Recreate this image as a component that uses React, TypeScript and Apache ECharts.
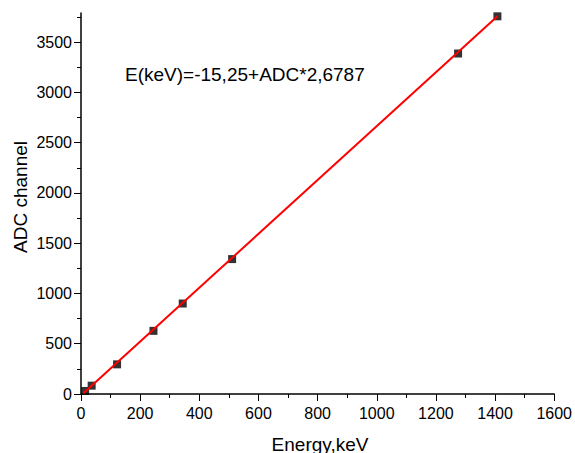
import React, { useEffect, useRef } from "react";
import * as echarts from "echarts";

const energyKeV = [14, 36, 122, 245, 344, 511, 1275, 1408];
const adcChannel = [30, 83, 295, 628, 900, 1342, 3387, 3757];
const fitX = [8, 1409];
const fitY = [7, 3760];
const yMajorTicks = [0, 500, 1000, 1500, 2000, 2500, 3000, 3500];
const yMinorTicks = [250, 750, 1250, 1750, 2250, 2750, 3250, 3750];
const equationText = "E(keV)=-15,25+ADC*2,6787";
const xName = "Energy,keV";
const yName = "ADC channel";

const FONT = "'Liberation Sans', Arial, sans-serif";

export default function App() {
  const ref = useRef<HTMLDivElement>(null);
  useEffect(() => {
    const chart = echarts.init(ref.current!, undefined, { renderer: "svg" });
    const scatterData = energyKeV.map((x, i) => [x, adcChannel[i]]);
    const fitData = fitX.map((x, i) => [x, fitY[i]]);
    const plain = (v: number) => String(v);
    chart.setOption({
      animation: false,
      backgroundColor: "#ffffff",
      grid: { left: 81, top: 13, right: 19, bottom: 59, containLabel: false },
      xAxis: {
        type: "value",
        min: 0,
        max: 1600,
        interval: 200,
        axisLine: { show: true, onZero: false, lineStyle: { color: "#000", width: 1.5 } },
        axisTick: { show: true, inside: false, length: 7, lineStyle: { color: "#000", width: 1 } },
        minorTick: { show: true, splitNumber: 2, length: 4, lineStyle: { color: "#000", width: 1 } },
        splitLine: { show: false },
        minorSplitLine: { show: false },
        axisLabel: { color: "#000", fontSize: 16, fontFamily: FONT, margin: 11, formatter: plain },
      },
      yAxis: [
        {
          type: "value",
          min: 0,
          max: 3790,
          position: "left",
          axisLine: { show: true, onZero: false, lineStyle: { color: "#000", width: 1.5 } },
          axisTick: {
            show: true,
            inside: false,
            length: 7,
            customValues: yMajorTicks,
            lineStyle: { color: "#000", width: 1 },
          },
          splitLine: { show: false },
          axisLabel: {
            color: "#000",
            fontSize: 16,
            fontFamily: FONT,
            margin: 9,
            customValues: yMajorTicks,
            formatter: plain,
          },
        },
        {
          type: "value",
          min: 0,
          max: 3790,
          position: "left",
          axisLine: { show: false },
          axisTick: {
            show: true,
            inside: false,
            length: 4,
            customValues: yMinorTicks,
            lineStyle: { color: "#000", width: 1 },
          },
          splitLine: { show: false },
          axisLabel: { show: false },
        },
      ],
      series: [
        {
          type: "scatter",
          data: scatterData,
          symbol: "rect",
          symbolSize: 8,
          itemStyle: { color: "#000", borderColor: "#000", borderWidth: 0 },
          z: 2,
        },
        {
          type: "line",
          data: fitData,
          showSymbol: false,
          symbol: "none",
          lineStyle: { color: "#ff0000", width: 2 },
          z: 3,
        },
      ],
      graphic: [
        {
          type: "text",
          x: 125,
          y: 74,
          style: {
            text: equationText,
            fontSize: 19,
            fontFamily: FONT,
            fill: "#000",
            verticalAlign: "middle",
          },
        },
        {
          type: "text",
          x: 320,
          y: 444,
          style: {
            text: xName,
            fontSize: 19,
            fontFamily: FONT,
            fill: "#000",
            align: "center",
            verticalAlign: "middle",
          },
        },
        {
          type: "text",
          x: 20.5,
          y: 197,
          rotation: Math.PI / 2,
          style: {
            text: yName,
            fontSize: 19,
            fontFamily: FONT,
            fill: "#000",
            align: "center",
            verticalAlign: "middle",
          },
        },
      ],
    });
    return () => chart.dispose();
  }, []);
  return (
    <div
      ref={ref}
      style={{ position: "fixed", left: 0, top: 0, width: 575, height: 453 }}
    />
  );
}
